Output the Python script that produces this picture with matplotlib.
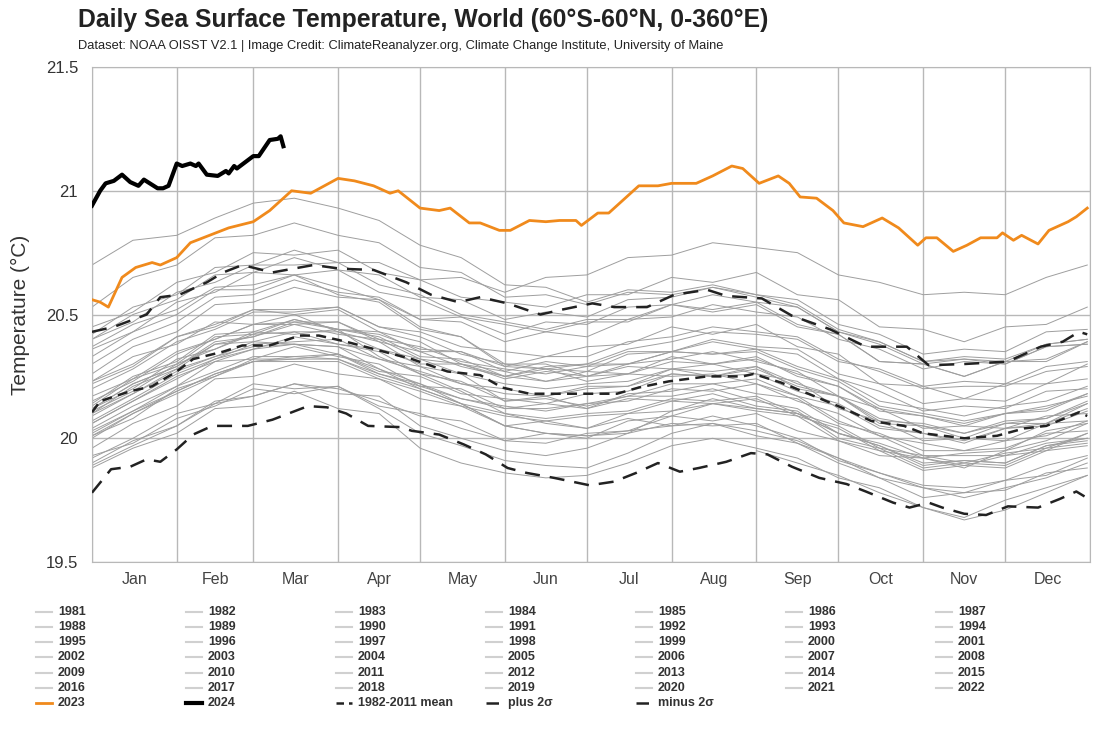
import matplotlib
matplotlib.use("Agg")
import matplotlib.pyplot as plt
from matplotlib.lines import Line2D
import numpy as np

plt.rcParams["font.family"] = ["Liberation Sans Narrow", "Liberation Sans", "DejaVu Sans"]

# semi-monthly sample days for the background years
doy_grid = [0, 15, 31, 45, 59, 74, 90, 105, 120, 135, 151, 166, 181, 196, 212,
            227, 243, 258, 273, 288, 304, 319, 334, 349, 364]

years = {
    1981: [None] * 16 + [19.95, 19.90, 19.85, 19.78, 19.72, 19.68, 19.75, 19.80, 19.85],
    1982: [19.92, 20.00, 20.10, 20.14, 20.22, 20.20, 20.21, 20.13, 20.10, 20.04, 19.99, 19.98, 20.02, 20.03, 20.09, 20.07, 20.10, 20.03, 19.99, 19.93, 19.92, 19.88, 19.95, 19.99, 20.06],
    1983: [20.12, 20.20, 20.32, 20.36, 20.43, 20.42, 20.44, 20.33, 20.26, 20.19, 20.10, 20.06, 20.04, 20.08, 20.05, 20.09, 20.05, 20.00, 19.91, 19.86, 19.80, 19.78, 19.83, 19.85, 19.92],
    1984: [19.93, 19.98, 20.08, 20.13, 20.20, 20.18, 20.21, 20.12, 20.02, 19.97, 19.91, 19.89, 19.88, 19.94, 20.02, 20.06, 20.01, 19.98, 19.90, 19.84, 19.76, 19.78, 19.79, 19.86, 19.88],
    1985: [19.88, 19.96, 20.02, 20.12, 20.13, 20.19, 20.12, 20.10, 19.96, 19.90, 19.86, 19.84, 19.85, 19.90, 19.97, 20.00, 19.96, 19.92, 19.84, 19.80, 19.72, 19.67, 19.71, 19.78, 19.85],
    1986: [19.89, 19.97, 20.05, 20.14, 20.17, 20.22, 20.20, 20.15, 20.09, 20.07, 19.99, 20.02, 20.00, 20.07, 20.09, 20.14, 20.12, 20.10, 20.02, 19.98, 19.92, 19.94, 19.95, 20.03, 20.06],
    1987: [20.10, 20.21, 20.28, 20.38, 20.41, 20.46, 20.42, 20.40, 20.32, 20.30, 20.24, 20.27, 20.25, 20.30, 20.32, 20.35, 20.31, 20.27, 20.17, 20.12, 20.04, 20.05, 20.04, 20.09, 20.10],
    1988: [20.10, 20.18, 20.28, 20.33, 20.39, 20.38, 20.37, 20.28, 20.22, 20.14, 20.05, 20.02, 20.01, 20.02, 20.06, 20.05, 20.06, 19.98, 19.92, 19.84, 19.80, 19.76, 19.80, 19.84, 19.90],
    1989: [19.90, 19.99, 20.05, 20.15, 20.17, 20.22, 20.18, 20.17, 20.05, 20.00, 19.95, 19.93, 19.96, 20.02, 20.11, 20.16, 20.12, 20.10, 20.02, 19.97, 19.90, 19.91, 19.90, 19.97, 20.00],
    1990: [20.04, 20.13, 20.21, 20.31, 20.32, 20.37, 20.33, 20.30, 20.21, 20.20, 20.12, 20.14, 20.12, 20.18, 20.19, 20.22, 20.18, 20.16, 20.06, 20.02, 19.95, 19.95, 19.96, 20.02, 20.03],
    1991: [20.06, 20.15, 20.25, 20.31, 20.36, 20.38, 20.37, 20.32, 20.27, 20.22, 20.18, 20.17, 20.20, 20.21, 20.26, 20.25, 20.26, 20.19, 20.14, 20.05, 20.02, 19.98, 20.04, 20.05, 20.11],
    1992: [20.09, 20.18, 20.27, 20.33, 20.37, 20.38, 20.34, 20.28, 20.20, 20.14, 20.05, 20.02, 20.01, 20.03, 20.05, 20.06, 20.03, 19.99, 19.92, 19.86, 19.81, 19.80, 19.83, 19.89, 19.93],
    1993: [19.96, 20.06, 20.13, 20.24, 20.25, 20.30, 20.26, 20.24, 20.16, 20.13, 20.05, 20.07, 20.04, 20.10, 20.11, 20.14, 20.11, 20.09, 19.99, 19.95, 19.87, 19.89, 19.88, 19.95, 19.97],
    1994: [20.01, 20.10, 20.19, 20.26, 20.31, 20.33, 20.32, 20.26, 20.21, 20.16, 20.12, 20.12, 20.14, 20.17, 20.22, 20.22, 20.24, 20.17, 20.13, 20.04, 20.02, 19.99, 20.04, 20.06, 20.12],
    1995: [20.12, 20.22, 20.29, 20.38, 20.39, 20.43, 20.38, 20.35, 20.26, 20.23, 20.15, 20.16, 20.13, 20.17, 20.17, 20.20, 20.15, 20.12, 20.02, 19.97, 19.89, 19.91, 19.90, 19.97, 19.99],
    1996: [20.00, 20.10, 20.18, 20.25, 20.31, 20.31, 20.31, 20.24, 20.19, 20.13, 20.09, 20.07, 20.09, 20.10, 20.15, 20.14, 20.16, 20.09, 20.04, 19.95, 19.92, 19.89, 19.93, 19.95, 20.02],
    1997: [20.06, 20.15, 20.24, 20.32, 20.36, 20.41, 20.38, 20.36, 20.30, 20.30, 20.25, 20.29, 20.30, 20.36, 20.39, 20.43, 20.42, 20.40, 20.31, 20.28, 20.21, 20.23, 20.22, 20.29, 20.31],
    1998: [20.37, 20.46, 20.52, 20.61, 20.62, 20.66, 20.61, 20.56, 20.45, 20.41, 20.29, 20.28, 20.23, 20.26, 20.25, 20.26, 20.22, 20.17, 20.07, 20.01, 19.93, 19.93, 19.93, 19.98, 20.00],
    1999: [20.02, 20.11, 20.19, 20.26, 20.31, 20.32, 20.32, 20.25, 20.20, 20.14, 20.10, 20.08, 20.10, 20.11, 20.16, 20.15, 20.17, 20.10, 20.05, 19.96, 19.93, 19.90, 19.94, 19.96, 20.02],
    2000: [20.03, 20.11, 20.21, 20.27, 20.33, 20.33, 20.34, 20.26, 20.22, 20.16, 20.13, 20.11, 20.14, 20.15, 20.20, 20.19, 20.22, 20.15, 20.10, 20.01, 19.98, 19.95, 19.99, 20.01, 20.07],
    2001: [20.11, 20.19, 20.30, 20.36, 20.42, 20.43, 20.43, 20.36, 20.32, 20.26, 20.22, 20.20, 20.22, 20.23, 20.28, 20.27, 20.29, 20.22, 20.17, 20.08, 20.05, 20.02, 20.06, 20.08, 20.14],
    2002: [20.15, 20.23, 20.34, 20.40, 20.46, 20.47, 20.47, 20.40, 20.37, 20.31, 20.28, 20.26, 20.29, 20.30, 20.35, 20.34, 20.36, 20.29, 20.24, 20.15, 20.12, 20.09, 20.13, 20.15, 20.21],
    2003: [20.22, 20.29, 20.41, 20.45, 20.52, 20.50, 20.52, 20.43, 20.39, 20.30, 20.27, 20.23, 20.27, 20.26, 20.33, 20.30, 20.33, 20.25, 20.21, 20.11, 20.09, 20.05, 20.10, 20.11, 20.18],
    2004: [20.17, 20.24, 20.35, 20.40, 20.46, 20.46, 20.47, 20.39, 20.35, 20.29, 20.25, 20.23, 20.25, 20.26, 20.31, 20.30, 20.32, 20.26, 20.21, 20.12, 20.09, 20.06, 20.10, 20.12, 20.18],
    2005: [20.23, 20.30, 20.41, 20.46, 20.52, 20.52, 20.53, 20.45, 20.41, 20.34, 20.30, 20.28, 20.30, 20.30, 20.35, 20.34, 20.35, 20.28, 20.23, 20.13, 20.10, 20.07, 20.10, 20.13, 20.17],
    2006: [20.14, 20.25, 20.31, 20.42, 20.43, 20.48, 20.44, 20.41, 20.33, 20.32, 20.25, 20.28, 20.27, 20.34, 20.35, 20.40, 20.37, 20.36, 20.26, 20.22, 20.14, 20.16, 20.15, 20.22, 20.24],
    2007: [20.23, 20.33, 20.38, 20.47, 20.46, 20.50, 20.43, 20.39, 20.29, 20.26, 20.15, 20.17, 20.12, 20.16, 20.15, 20.18, 20.13, 20.11, 20.00, 19.96, 19.88, 19.90, 19.89, 19.96, 19.98],
    2008: [20.01, 20.08, 20.20, 20.25, 20.32, 20.32, 20.34, 20.27, 20.25, 20.18, 20.16, 20.14, 20.18, 20.19, 20.26, 20.25, 20.28, 20.21, 20.17, 20.07, 20.06, 20.02, 20.07, 20.08, 20.15],
    2009: [20.12, 20.22, 20.29, 20.39, 20.41, 20.47, 20.44, 20.42, 20.36, 20.35, 20.29, 20.33, 20.33, 20.39, 20.41, 20.45, 20.43, 20.41, 20.32, 20.27, 20.20, 20.21, 20.21, 20.27, 20.29],
    2010: [20.33, 20.43, 20.50, 20.60, 20.60, 20.66, 20.58, 20.55, 20.44, 20.41, 20.30, 20.30, 20.25, 20.29, 20.28, 20.30, 20.26, 20.23, 20.12, 20.07, 19.99, 20.00, 19.99, 20.06, 20.07],
    2011: [20.07, 20.16, 20.26, 20.32, 20.38, 20.39, 20.40, 20.32, 20.29, 20.22, 20.20, 20.17, 20.21, 20.21, 20.28, 20.25, 20.29, 20.20, 20.17, 20.06, 20.05, 20.00, 20.06, 20.06, 20.14],
    2012: [20.13, 20.24, 20.30, 20.41, 20.42, 20.48, 20.44, 20.43, 20.35, 20.35, 20.27, 20.31, 20.29, 20.35, 20.35, 20.39, 20.36, 20.34, 20.24, 20.19, 20.11, 20.13, 20.12, 20.19, 20.20],
    2013: [20.20, 20.28, 20.39, 20.44, 20.51, 20.51, 20.53, 20.45, 20.43, 20.37, 20.35, 20.33, 20.37, 20.38, 20.45, 20.42, 20.46, 20.37, 20.34, 20.22, 20.21, 20.16, 20.22, 20.22, 20.30],
    2014: [20.26, 20.37, 20.43, 20.54, 20.55, 20.61, 20.57, 20.56, 20.48, 20.49, 20.42, 20.47, 20.46, 20.53, 20.54, 20.58, 20.55, 20.53, 20.43, 20.39, 20.31, 20.33, 20.32, 20.38, 20.40],
    2015: [20.42, 20.53, 20.58, 20.69, 20.70, 20.76, 20.71, 20.71, 20.64, 20.65, 20.59, 20.65, 20.66, 20.73, 20.74, 20.79, 20.77, 20.75, 20.66, 20.63, 20.58, 20.59, 20.58, 20.65, 20.70],
    2016: [20.70, 20.80, 20.82, 20.89, 20.95, 20.97, 20.93, 20.88, 20.78, 20.73, 20.62, 20.61, 20.55, 20.60, 20.59, 20.62, 20.58, 20.54, 20.44, 20.39, 20.31, 20.32, 20.31, 20.38, 20.40],
    2017: [20.40, 20.47, 20.59, 20.63, 20.70, 20.70, 20.71, 20.62, 20.58, 20.50, 20.47, 20.44, 20.48, 20.48, 20.54, 20.52, 20.55, 20.46, 20.42, 20.31, 20.30, 20.25, 20.31, 20.32, 20.39],
    2018: [20.30, 20.40, 20.47, 20.57, 20.58, 20.64, 20.59, 20.57, 20.48, 20.47, 20.39, 20.43, 20.41, 20.48, 20.49, 20.54, 20.51, 20.49, 20.40, 20.36, 20.28, 20.31, 20.30, 20.37, 20.38],
    2019: [20.45, 20.51, 20.63, 20.67, 20.75, 20.74, 20.76, 20.67, 20.64, 20.57, 20.55, 20.53, 20.58, 20.58, 20.65, 20.63, 20.67, 20.58, 20.56, 20.45, 20.44, 20.39, 20.45, 20.46, 20.53],
    2020: [20.53, 20.65, 20.70, 20.81, 20.82, 20.87, 20.82, 20.79, 20.69, 20.67, 20.57, 20.58, 20.54, 20.59, 20.58, 20.61, 20.57, 20.53, 20.43, 20.38, 20.30, 20.32, 20.30, 20.37, 20.38],
    2021: [20.36, 20.43, 20.55, 20.59, 20.67, 20.66, 20.68, 20.59, 20.56, 20.49, 20.46, 20.43, 20.47, 20.47, 20.54, 20.51, 20.54, 20.45, 20.42, 20.31, 20.30, 20.25, 20.31, 20.31, 20.39],
    2022: [20.40, 20.50, 20.56, 20.66, 20.67, 20.73, 20.68, 20.66, 20.57, 20.56, 20.48, 20.51, 20.49, 20.56, 20.57, 20.61, 20.58, 20.56, 20.46, 20.42, 20.34, 20.36, 20.35, 20.43, 20.44],
}

doy_2023 = [0, 3, 6, 11, 16, 22, 25, 31, 36, 43, 50, 59, 65, 73, 80, 85, 90, 96, 103, 109,
            112, 120, 127, 131, 138, 142, 149, 153, 160, 166, 171, 177, 179, 185, 189, 194,
            200, 207, 212, 221, 227, 234, 238, 244, 251, 255, 259, 265, 271, 275, 282, 289,
            295, 302, 305, 309, 315, 320, 325, 331, 333, 337, 340, 346, 350, 357, 360, 364]
sst_2023 = [20.56, 20.55, 20.53, 20.65, 20.69, 20.71, 20.70, 20.73, 20.79, 20.82, 20.85,
            20.875, 20.92, 21.00, 20.99, 21.02, 21.05, 21.04, 21.02, 20.99, 21.00, 20.93,
            20.92, 20.93, 20.87, 20.87, 20.84, 20.84, 20.88, 20.875, 20.88, 20.88, 20.86,
            20.91, 20.91, 20.96, 21.02, 21.02, 21.03, 21.03, 21.06, 21.10, 21.09, 21.03,
            21.06, 21.03, 20.975, 20.97, 20.92, 20.87, 20.855, 20.89, 20.85, 20.78, 20.81,
            20.81, 20.755, 20.78, 20.81, 20.81, 20.83, 20.80, 20.82, 20.785, 20.84, 20.875,
            20.895, 20.93]

doy_2024 = [0, 3, 5, 8, 11, 14, 17, 19, 24, 26, 28, 31, 33, 36, 38, 39, 42, 46, 49, 50,
            52, 53, 59, 61, 65, 68, 69, 70]
sst_2024 = [20.94, 21.00, 21.03, 21.04, 21.065, 21.035, 21.02, 21.045, 21.01, 21.01, 21.02,
            21.11, 21.10, 21.11, 21.10, 21.11, 21.065, 21.06, 21.08, 21.07, 21.10, 21.09,
            21.14, 21.14, 21.205, 21.21, 21.22, 21.18]

doy_mean = [0, 3, 14, 22, 31, 37, 48, 55, 65, 76, 83, 93, 105, 117, 130, 142, 150, 160,
            192, 200, 211, 225, 238, 242, 252, 262, 274, 285, 297, 304, 319, 331, 341, 349,
            361, 364]
sst_mean = [20.105, 20.15, 20.19, 20.21, 20.27, 20.32, 20.35, 20.375, 20.375, 20.415,
            20.415, 20.39, 20.355, 20.32, 20.27, 20.255, 20.205, 20.18, 20.18, 20.205,
            20.23, 20.25, 20.25, 20.26, 20.225, 20.18, 20.125, 20.07, 20.05, 20.02, 20.00,
            20.01, 20.04, 20.05, 20.105, 20.09]

doy_plus = [0, 8, 20, 25, 32, 42, 48, 55, 66, 81, 91, 103, 115, 124, 134, 142, 152, 164,
            172, 183, 191, 203, 213, 225, 232, 245, 256, 270, 283, 298, 306, 319, 335, 347,
            355, 361, 364]
sst_plus = [20.43, 20.45, 20.50, 20.57, 20.58, 20.63, 20.67, 20.70, 20.67, 20.70, 20.685,
            20.68, 20.63, 20.58, 20.55, 20.57, 20.545, 20.50, 20.52, 20.545, 20.53, 20.53,
            20.58, 20.60, 20.575, 20.565, 20.495, 20.44, 20.37, 20.37, 20.295, 20.30, 20.31,
            20.37, 20.39, 20.43, 20.42]

doy_minus = [0, 7, 14, 20, 25, 31, 37, 44, 57, 66, 79, 86, 93, 101, 113, 117, 127, 136,
             144, 152, 159, 169, 182, 191, 199, 207, 215, 222, 232, 241, 247, 256, 266, 276,
             283, 293, 299, 306, 311, 319, 327, 335, 346, 354, 360, 363]
sst_minus = [19.78, 19.875, 19.885, 19.915, 19.905, 19.955, 20.015, 20.05, 20.05, 20.075,
             20.13, 20.125, 20.10, 20.05, 20.045, 20.03, 20.015, 19.975, 19.935, 19.88,
             19.86, 19.84, 19.81, 19.825, 19.86, 19.90, 19.865, 19.88, 19.905, 19.94, 19.935,
             19.885, 19.84, 19.815, 19.785, 19.74, 19.72, 19.74, 19.72, 19.695, 19.69,
             19.725, 19.72, 19.755, 19.785, 19.765]

months = ["Jan", "Feb", "Mar", "Apr", "May", "Jun", "Jul", "Aug", "Sep", "Oct", "Nov", "Dec"]
month_days = [31, 28, 31, 30, 31, 30, 31, 31, 30, 31, 30, 31]

fig = plt.figure(figsize=(11, 7.3), dpi=100)
ax = fig.add_axes([0.0836, 0.2301, 0.9073, 0.6781])

grid_c = "#b8b8b8"
for yr, vals in years.items():
    v = np.array([np.nan if x is None else x for x in vals], dtype=float)
    ax.plot(doy_grid, v, color="#9e9e9e", lw=0.7, zorder=2)

ax.plot(doy_minus, sst_minus, color="#222222", lw=1.8, dashes=(6, 4), zorder=3)
ax.plot(doy_plus, sst_plus, color="#222222", lw=1.8, dashes=(6, 4), zorder=3)
ax.plot(doy_mean, sst_mean, color="#222222", lw=1.8, dashes=(4, 2.5), zorder=3)
ax.plot(doy_2023, sst_2023, color="#f08a1c", lw=2.0, zorder=4)
ax.plot(doy_2024, sst_2024, color="black", lw=3.0, zorder=5)

edges = np.concatenate([[0], np.cumsum(month_days)])
mids = (edges[:-1] + edges[1:]) / 2
ax.set_xlim(0, 365)
ax.set_ylim(19.5, 21.5)
ax.set_xticks(edges)
ax.set_xticklabels([])
ax.set_xticks(mids, minor=True)
ax.set_xticklabels(months, minor=True)
ax.tick_params(axis="x", which="both", length=0, pad=7, labelsize=11.5, labelcolor="#444444")
ax.set_yticks([19.5, 20, 20.5, 21, 21.5])
ax.set_yticklabels(["19.5", "20", "20.5", "21", "21.5"])
ax.tick_params(axis="y", length=0, pad=10, labelsize=12, labelcolor="#333333")
ax.grid(True, which="major", color=grid_c, lw=1.0, zorder=0)
for s in ax.spines.values():
    s.set_color(grid_c)
ax.set_ylabel("Temperature (°C)", fontsize=15, color="#333333", labelpad=11,
              family=["Liberation Sans", "DejaVu Sans"])

fig.text(0.071, 0.9725, "Daily Sea Surface Temperature, World (60°S-60°N, 0-360°E)",
         fontsize=17.8, fontweight="bold", color="#222222", va="center")
fig.text(0.071, 0.937, "Dataset: NOAA OISST V2.1 | Image Credit: ClimateReanalyzer.org, "
         "Climate Change Institute, University of Maine",
         fontsize=9.3, color="#222222", va="center")

# legend, laid out row by row like the original
labels = [str(y) for y in range(1981, 2025)] + ["1982-2011 mean", "plus 2σ", "minus 2σ"]
W, H = 1100.0, 730.0
for i, lab in enumerate(labels):
    col, row = i % 7, i // 7
    x0 = 36 + 150 * col
    y0 = 612 + 15.15 * row
    if lab == "2023":
        kw = dict(color="#f08a1c", lw=2)
    elif lab == "2024":
        kw = dict(color="black", lw=3)
    elif lab == "1982-2011 mean":
        kw = dict(color="#222222", lw=1.8, dashes=(3, 2))
    elif "2σ" in lab:
        kw = dict(color="#222222", lw=1.8, dashes=(5, 3, 1.5, 3))
    else:
        kw = dict(color="#d0d0d0", lw=1.5)
    fig.add_artist(Line2D([x0 / W, (x0 + 16) / W], [1 - y0 / H, 1 - y0 / H], **kw))
    fig.text((x0 + 22) / W, 1 - y0 / H, lab, fontsize=9, fontweight="bold",
             color="#333333", va="center", family=["Liberation Sans", "DejaVu Sans"])

fig.savefig("out.png", dpi=100)
